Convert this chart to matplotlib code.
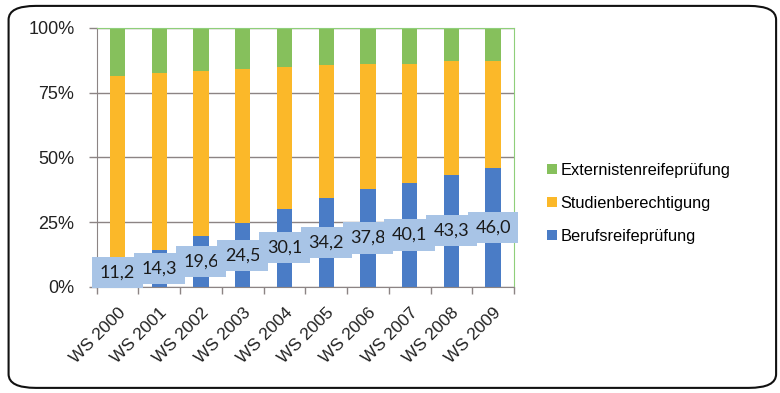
import matplotlib.pyplot as plt
import matplotlib.transforms as mtransforms
import numpy as np
from matplotlib.patches import FancyBboxPatch

# Zusammensetzung der Studienanfänger nach Art der Studienberechtigung (in %)
semester = ["WS 2000", "WS 2001", "WS 2002", "WS 2003", "WS 2004",
            "WS 2005", "WS 2006", "WS 2007", "WS 2008", "WS 2009"]
berufsreife = [11.2, 14.3, 19.6, 24.5, 30.1, 34.2, 37.8, 40.1, 43.3, 46.0]
studienberechtigung = [70.3, 68.3, 63.9, 59.7, 54.7, 51.5, 48.3, 46.0, 43.8, 41.4]
externisten = [18.5, 17.4, 16.5, 15.8, 15.2, 14.3, 13.9, 13.9, 12.9, 12.6]
labels = ["11,2", "14,3", "19,6", "24,5", "30,1", "34,2", "37,8", "40,1", "43,3", "46,0"]

c_blue = "#4a7cc6"
c_orange = "#fbb829"
c_green = "#86c05c"
c_box = "#a8c4e6"
c_grid = "#8c8484"

plt.rcParams['font.family'] = ['Liberation Sans', 'DejaVu Sans']

fig = plt.figure(figsize=(7.8, 3.93), dpi=100)
ax = fig.add_axes([0.124, 0.270, 0.535, 0.659])

x = np.arange(len(semester))
w = 0.37
b = np.array(berufsreife)
s = np.array(studienberechtigung)
e = np.array(externisten)
ax.bar(x, b, w, color=c_blue, label="Berufsreifeprüfung", zorder=2)
ax.bar(x, s, w, bottom=b, color=c_orange, label="Studienberechtigung", zorder=2)
ax.bar(x, e, w, bottom=b + s, color=c_green, label="Externistenreifeprüfung", zorder=2)

for xi, v, t in zip(x, berufsreife, labels):
    ax.text(xi, v / 2, t, ha="center", va="center", fontsize=13,
            family=["Lato", "DejaVu Sans"], color="#1a1a1a", zorder=4,
            bbox=dict(boxstyle="square,pad=0.42", fc=c_box, ec="none"))

ax.set_xlim(-0.5, len(semester) - 0.5)
ax.set_ylim(0, 100)
ax.set_yticks([0, 25, 50, 75, 100])
ax.set_yticklabels(["0%", "25%", "50%", "75%", "100%"], fontsize=13, color="#222222")
ax.yaxis.grid(True, color=c_grid, lw=1.0, zorder=1)
ax.set_axisbelow(True)

ax.set_xticks(x)
ax.set_xticklabels(semester, rotation=45, ha="right", rotation_mode="anchor",
                   fontsize=12.5, color="#222222")
shift = mtransforms.ScaledTranslation(-5 / 100, 0, fig.dpi_scale_trans)
for lab in ax.get_xticklabels():
    lab.set_transform(lab.get_transform() + shift)
ax.set_xticks(np.arange(-0.5, len(semester)), minor=True)
ax.tick_params(axis="x", which="major", length=0, pad=13)
ax.tick_params(axis="x", which="minor", length=5, color=c_grid, width=1)
ax.tick_params(axis="y", length=6, color=c_grid, width=1, pad=10)

for side in ("left", "bottom"):
    ax.spines[side].set_color(c_grid)
for side in ("top", "right"):
    ax.spines[side].set_color("#8fcf7a")

handles, lbls = ax.get_legend_handles_labels()
leg = fig.legend(handles[::-1], lbls[::-1], loc="center left",
                 bbox_to_anchor=(0.683, 0.482), frameon=False, fontsize=11.8,
                 handlelength=0.55, handleheight=0.55, handletextpad=0.25,
                 labelspacing=1.1)

border = FancyBboxPatch((0.011, 0.013), 0.984, 0.972, transform=fig.transFigure,
                        boxstyle="round,pad=0,rounding_size=0.035",
                        fc="none", ec="#111111", lw=1.5)
fig.patches.append(border)

fig.savefig("out.png", dpi=100)
